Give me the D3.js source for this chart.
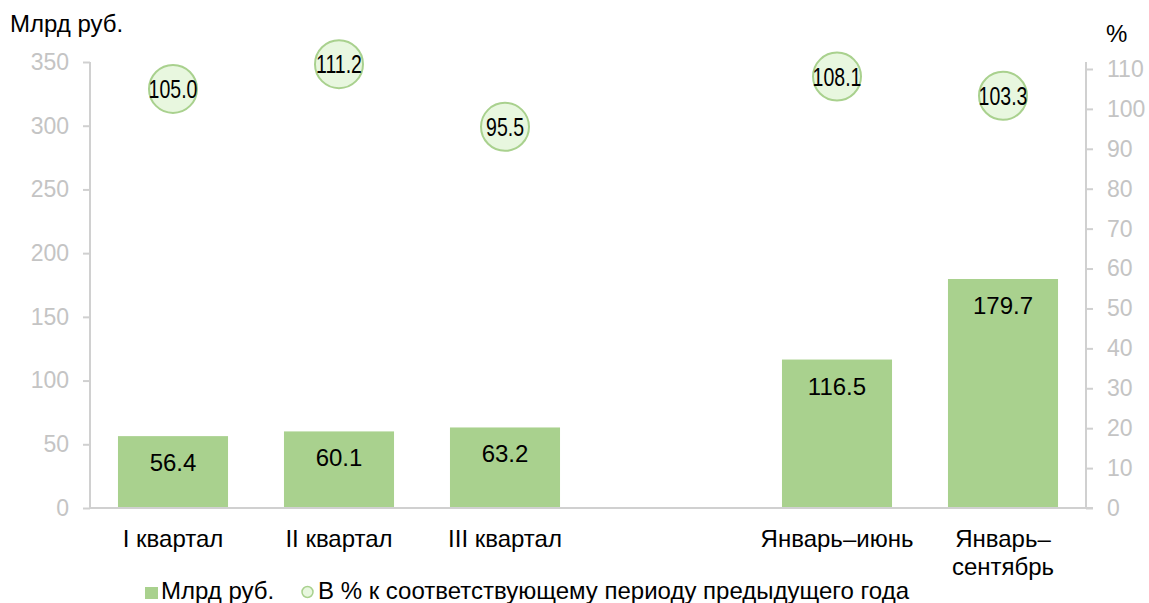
<!DOCTYPE html>
<html>
<head>
<meta charset="utf-8">
<script src="https://cdn.jsdelivr.net/npm/d3@7"></script>
<style>
  body { margin: 0; background: #fff; }
  text { font-family: Arial, "Liberation Sans", sans-serif; }
</style>
</head>
<body>
<div class="canvas"></div>
<script>
// data
const categories = ["I квартал", "II квартал", "III квартал", "", "Январь–июнь", "Январь–сентябрь"];
const categoryLines = [["I квартал"], ["II квартал"], ["III квартал"], [], ["Январь–июнь"], ["Январь–", "сентябрь"]];
const amounts = [56.4, 60.1, 63.2, null, 116.5, 179.7];
const percents = [105.0, 111.2, 95.5, null, 108.1, 103.3];
const leftTicks = [0, 50, 100, 150, 200, 250, 300, 350];
const rightTicks = [0, 10, 20, 30, 40, 50, 60, 70, 80, 90, 100, 110];

const dims = { width: 1149, height: 603 };
const margin = { top: 62, left: 90, right: 63, bottom: 95 };
const barColor = "#a9d18e";
const axisColor = "#d0d0d0";

const svg = d3
  .select(".canvas")
  .append("svg")
  .attr("width", dims.width)
  .attr("height", dims.height);

const x = d3
  .scaleBand()
  .domain(d3.range(categories.length))
  .range([margin.left, dims.width - margin.right])
  .paddingInner(0.337)
  .paddingOuter(0.1685);

const yLeft = d3
  .scaleLinear()
  .domain([0, 350])
  .range([dims.height - margin.bottom, margin.top]);

const yRight = d3
  .scaleLinear()
  .domain([0, 111.75])
  .range([dims.height - margin.bottom, margin.top]);

const x0 = margin.left;
const x1 = dims.width - margin.right;
const yBase = yLeft(0);

// axes
const leftAxis = svg
  .append("g")
  .attr("transform", `translate(${x0}, 0)`)
  .call(d3.axisLeft(yLeft).tickValues(leftTicks).tickSize(7).tickPadding(14));

const rightAxis = svg
  .append("g")
  .attr("transform", `translate(${x1}, 0)`)
  .call(d3.axisRight(yRight).tickValues(rightTicks).tickSize(7).tickPadding(14));

[leftAxis, rightAxis].forEach((g) => {
  g.select(".domain").remove();
  g.selectAll("line").attr("stroke", axisColor).attr("stroke-width", 2);
  g.selectAll("text")
    .attr("fill", "#c4c4c4")
    .style("font-size", "23px");
});

svg.append("line")
  .attr("x1", x0).attr("x2", x0)
  .attr("y1", margin.top).attr("y2", yBase)
  .attr("stroke", axisColor).attr("stroke-width", 2);

svg.append("line")
  .attr("x1", x1).attr("x2", x1)
  .attr("y1", margin.top).attr("y2", yBase)
  .attr("stroke", axisColor).attr("stroke-width", 2);

svg.append("line")
  .attr("x1", x0).attr("x2", x1 + 7)
  .attr("y1", yBase).attr("y2", yBase)
  .attr("stroke", axisColor).attr("stroke-width", 2);

// bars
const barData = amounts.map((v, i) => ({ i, v })).filter((d) => d.v !== null);

svg.append("g")
  .selectAll("rect")
  .data(barData)
  .enter()
  .append("rect")
  .attr("x", (d) => x(d.i))
  .attr("width", x.bandwidth())
  .attr("y", (d) => yLeft(d.v))
  .attr("height", (d) => yBase - yLeft(d.v) - 1)
  .attr("fill", barColor);

svg.append("g")
  .selectAll("text")
  .data(barData)
  .enter()
  .append("text")
  .attr("x", (d) => x(d.i) + x.bandwidth() / 2)
  .attr("y", (d) => yLeft(d.v) + 35)
  .attr("text-anchor", "middle")
  .style("font-size", "24px")
  .attr("fill", "#000")
  .text((d) => d.v.toFixed(1));

// percent circles
const pctData = percents.map((v, i) => ({ i, v })).filter((d) => d.v !== null);

const dots = svg.append("g")
  .selectAll("g")
  .data(pctData)
  .enter()
  .append("g")
  .attr("transform", (d) => `translate(${x(d.i) + x.bandwidth() / 2}, ${yRight(d.v)})`);

dots.append("circle")
  .attr("r", 24)
  .attr("fill", "#e8f7df")
  .attr("stroke", barColor)
  .attr("stroke-width", 2);

// narrow-looking labels: squeeze regular glyphs horizontally
dots.append("text")
  .attr("text-anchor", "middle")
  .attr("dy", "0.36em")
  .attr("transform", "scale(0.78, 1)")
  .style("font-size", "25px")
  .attr("fill", "#000")
  .text((d) => d.v.toFixed(1));

// category labels
const catGroup = svg.append("g")
  .selectAll("text")
  .data(categoryLines.map((lines, i) => ({ i, lines })))
  .enter()
  .append("text")
  .attr("x", (d) => x(d.i) + x.bandwidth() / 2)
  .attr("y", 547)
  .attr("text-anchor", "middle")
  .style("font-size", "24px")
  .attr("fill", "#000");

catGroup.selectAll("tspan")
  .data((d) => d.lines.map((l) => ({ l, x: x(d.i) + x.bandwidth() / 2 })))
  .enter()
  .append("tspan")
  .attr("x", (d) => d.x)
  .attr("dy", (d, j) => (j === 0 ? 0 : 28))
  .text((d) => d.l);

// axis titles
svg.append("text")
  .attr("x", 10)
  .attr("y", 32)
  .style("font-size", "24px")
  .text("Млрд руб.");

svg.append("text")
  .attr("x", 1106)
  .attr("y", 42)
  .style("font-size", "24px")
  .text("%");

// legend
const legend = svg.append("g").attr("transform", "translate(0, 599)");

legend.append("rect")
  .attr("x", 145).attr("y", -12)
  .attr("width", 13).attr("height", 12)
  .attr("fill", barColor);

legend.append("text")
  .attr("x", 161).attr("y", 0)
  .style("font-size", "24px")
  .text("Млрд руб.");

legend.append("circle")
  .attr("cx", 307.5).attr("cy", -7).attr("r", 5.5)
  .attr("fill", "#e8f7df")
  .attr("stroke", barColor)
  .attr("stroke-width", 1.5);

legend.append("text")
  .attr("x", 318).attr("y", 0)
  .style("font-size", "24px")
  .text("В % к соответствующему периоду предыдущего года");
</script>
</body>
</html>
